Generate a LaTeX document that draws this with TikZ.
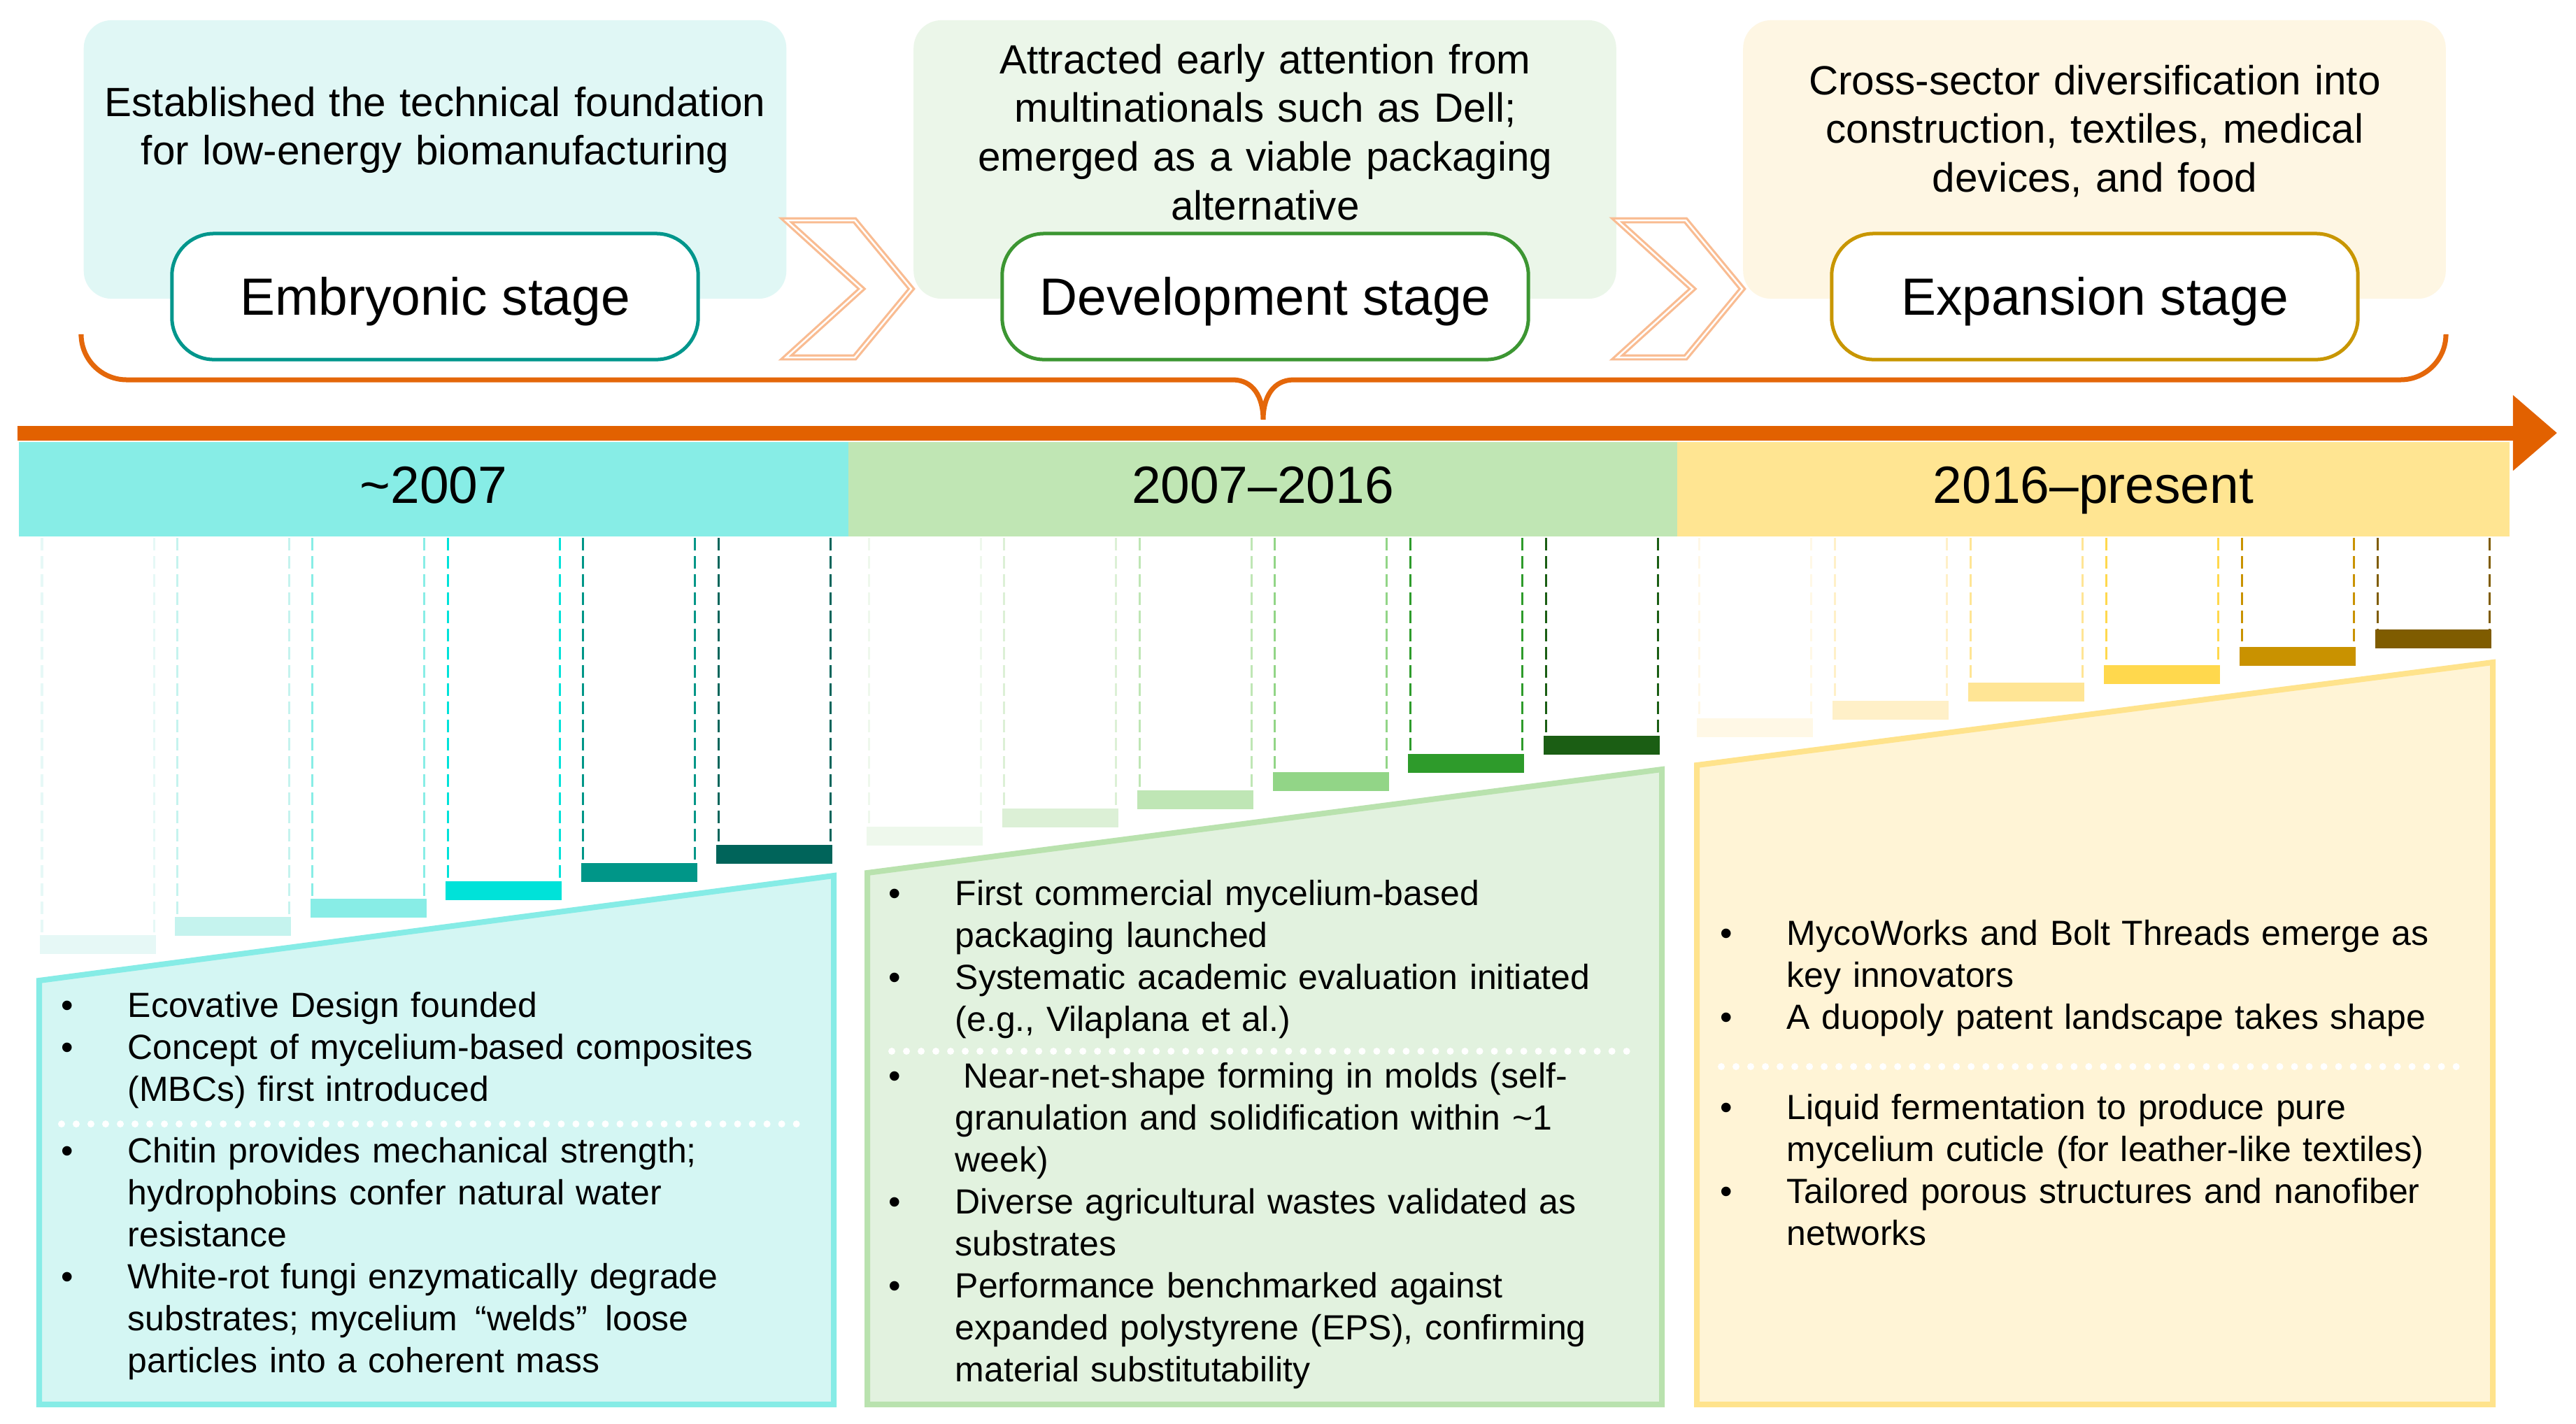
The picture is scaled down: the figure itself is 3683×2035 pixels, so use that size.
\documentclass[tikz,border=0pt]{standalone}
\usepackage{fontspec}
\setmainfont{Liberation Sans}
\usetikzlibrary{arrows.meta}
\definecolor{tlc}{HTML}{E26100}
\definecolor{bracec}{HTML}{E4670A}
\definecolor{chevc}{HTML}{F9BC92}
\definecolor{cybox}{HTML}{E0F7F5}
\definecolor{grbox}{HTML}{EBF6E9}
\definecolor{yebox}{HTML}{FEF6E3}
\definecolor{cystage}{HTML}{00968C}
\definecolor{grstage}{HTML}{3C9632}
\definecolor{yestage}{HTML}{C89600}
\definecolor{cybar}{HTML}{87EDE6}
\definecolor{grbar}{HTML}{C0E6B4}
\definecolor{yebar}{HTML}{FFE592}
\definecolor{cyfill}{HTML}{D4F6F3}
\definecolor{cyline}{HTML}{86ECE6}
\definecolor{grfill}{HTML}{E2F2DF}
\definecolor{grline}{HTML}{B9E2AE}
\definecolor{yefill}{HTML}{FFF4D6}
\definecolor{yeline}{HTML}{FFE38C}
% step colours
\definecolor{cA}{HTML}{E6F8F6}\definecolor{cB}{HTML}{C5F3EE}\definecolor{cC}{HTML}{88EDE6}
\definecolor{cD}{HTML}{00E2D9}\definecolor{cE}{HTML}{009688}\definecolor{cF}{HTML}{00645A}
\definecolor{gA}{HTML}{EEF8EC}\definecolor{gB}{HTML}{DCF0D6}\definecolor{gC}{HTML}{BFE6B5}
\definecolor{gD}{HTML}{92D587}\definecolor{gE}{HTML}{2E9B2B}\definecolor{gF}{HTML}{1B5E14}
\definecolor{yA}{HTML}{FFF8E6}\definecolor{yB}{HTML}{FFF0C8}\definecolor{yC}{HTML}{FFE595}
\definecolor{yD}{HTML}{FFD84D}\definecolor{yE}{HTML}{C99200}\definecolor{yF}{HTML}{7F5C00}
\newcommand\bitem{\makebox[0.95cm][l]{\textbullet}}
\newcommand\bcont{\hspace*{0.95cm}}
\begin{document}
\begin{tikzpicture}[x=0.01cm,y=-0.01cm,
 topbox/.style={rounded corners=0.4cm, inner sep=0, minimum width=10.04cm, minimum height=3.98cm},
 toptext/.style={anchor=base, text width=10.2cm, align=center, inner sep=0, font=\fontsize{16.6}{19.9}\selectfont},
 stagebox/.style={rounded corners=0.6cm, fill=white, line width=0.05cm, minimum width=7.52cm, minimum height=1.80cm, inner sep=0, text height=0.68cm, text depth=0.16cm, font=\fontsize{21.3}{25}\selectfont},
 periodbar/.style={inner sep=0, minimum height=1.35cm, text height=0.56cm, text depth=0.16cm, font=\fontsize{21.3}{25}\selectfont},
 chev/.style={draw=chevc, double=white, double distance=0.025cm, line width=0.032cm, line join=miter},
 brace/.style={draw=bracec, line width=0.07cm},
 colline/.style={line width=0.03cm, dash pattern=on 0.18cm off 0.08cm},
 panel/.style={line width=0.08cm, line join=miter},
 dotsep/.style={draw=white, line width=0.1cm, line cap=round, dash pattern=on 0pt off 0.21cm},
 bullets/.style={anchor=base west, text width=11cm, align=left, inner sep=0, font=\fontsize{14.2}{17.07}\selectfont},
]
\useasboundingbox (0,0) rectangle (3683,2035);
\fill[white] (0,0) rectangle (3683,2035);

% ---------- top boxes ----------
\node[topbox, fill=cybox] (b1) at (622,228) {};
\node[topbox, fill=grbox] (b2) at (1808.5,228) {};
\node[topbox, fill=yebox] (b3) at (2994.5,228) {};

\node[toptext] (t1) at (622,166) {Established the technical foundation\\for low-energy biomanufacturing};
\node[toptext] (t2) at (1809,105) {Attracted early attention from\\multinationals such as Dell;\\emerged as a viable packaging\\alternative};
\node[toptext] (t3) at (2995,135) {Cross-sector diversification into\\construction, textiles, medical\\devices, and food};

\node[stagebox, draw=cystage] (s1) at (622,424) {Embryonic stage};
\node[stagebox, draw=grstage] (s2) at (1809,424) {Development stage};
\node[stagebox, draw=yestage] (s3) at (2995,424) {Expansion stage};

% ---------- chevrons ----------
\draw[chev] (1124,315) -- (1222,315) -- (1303,413) -- (1222,511) -- (1124,511) -- (1232,413) -- cycle;
\draw[chev] (2312,315) -- (2410,315) -- (2491,413) -- (2410,511) -- (2312,511) -- (2420,413) -- cycle;

% ---------- brace ----------
\draw[brace, rounded corners=0.65cm] (116,481) -- (116,543) -- (1700,543) [sharp corners] -- (1762,543)
  .. controls (1792,543) and (1806,568) .. (1806,600)
  .. controls (1806,568) and (1820,543) .. (1850,543)
  [rounded corners=0.65cm] -- (3497,543) -- (3497,481);

% ---------- period bars ----------
\node[periodbar, fill=cybar, minimum width=11.86cm] (p1) at (620,699.5) {\textasciitilde 2007};
\node[periodbar, fill=grbar, minimum width=11.85cm] (p2) at (1805.5,699.5) {2007–2016};
\node[periodbar, fill=yebar, minimum width=11.90cm] (p3) at (2993,699.5) {2016–present};

% ---------- timeline arrow ----------
\coordinate (tls) at (25,619);
\coordinate (tle) at (3656,619);
\draw[tlc, line width=0.21cm, -{Triangle[width=1.04cm,length=0.63cm]}] (tls) -- (tle);

% ---------- step columns ----------
\foreach \i/\c in {0/cA,1/cB,2/cC,3/cD,4/cE,5/cF}{
  \pgfmathsetmacro\xa{57+193.4*\i}
  \pgfmathsetmacro\yb{1364-25.8*\i}
  \fill[\c] (\xa,\yb-27) rectangle (\xa+166,\yb);
  \draw[colline,\c] (\xa+3,769) -- (\xa+3,\yb-27);
  \draw[colline,\c] (\xa+163,769) -- (\xa+163,\yb-27);
}
\foreach \i/\c in {0/gA,1/gB,2/gC,3/gD,4/gE,5/gF}{
  \pgfmathsetmacro\xa{1239+193.6*\i}
  \pgfmathsetmacro\yb{1209-26*\i}
  \fill[\c] (\xa,\yb-27) rectangle (\xa+166,\yb);
  \draw[colline,\c] (\xa+3,769) -- (\xa+3,\yb-27);
  \draw[colline,\c] (\xa+163,769) -- (\xa+163,\yb-27);
}
\foreach \i/\c in {0/yA,1/yB,2/yC,3/yD,4/yE,5/yF}{
  \pgfmathsetmacro\xa{2426+194*\i}
  \pgfmathsetmacro\yb{1054-25.5*\i}
  \fill[\c] (\xa,\yb-27) rectangle (\xa+166,\yb);
  \draw[colline,\c] (\xa+3,769) -- (\xa+3,\yb-27);
  \draw[colline,\c] (\xa+163,769) -- (\xa+163,\yb-27);
}

% ---------- panels ----------
\filldraw[panel, fill=cyfill, draw=cyline] (56,1402) -- (1192,1252) -- (1192,2008) -- (56,2008) -- cycle;
\filldraw[panel, fill=grfill, draw=grline] (1240,1248) -- (2376,1100) -- (2376,2008) -- (1240,2008) -- cycle;
\filldraw[panel, fill=yefill, draw=yeline] (2426,1094) -- (3564,947) -- (3564,2008) -- (2426,2008) -- cycle;

\draw[dotsep] (88,1607) -- (1144,1607);
\draw[dotsep] (1275,1503) -- (2336,1503);
\draw[dotsep] (2461,1525) -- (3521,1525);

% ---------- panel texts ----------
\node[bullets] (c1) at (87,1454) {\bitem Ecovative Design founded\\
\bitem Concept of mycelium-based composites\\
\bcont (MBCs) first introduced};
\node[bullets] (c2) at (87,1662) {\bitem Chitin provides mechanical strength;\\
\bcont hydrophobins confer natural water\\
\bcont resistance\\
\bitem White-rot fungi enzymatically degrade\\
\bcont substrates; mycelium\enspace“welds”\enspace loose\\
\bcont particles into a coherent mass};

\node[bullets] (g1) at (1270,1294) {\bitem First commercial mycelium-based\\
\bcont packaging launched\\
\bitem Systematic academic evaluation initiated\\
\bcont (e.g., Vilaplana et al.)};
\node[bullets] (g2) at (1270,1555) {\bitem\hspace*{0.12cm}Near-net-shape forming in molds (self-\\
\bcont granulation and solidification within \textasciitilde 1\\
\bcont week)\\
\bitem Diverse agricultural wastes validated as\\
\bcont substrates\\
\bitem Performance benchmarked against\\
\bcont expanded polystyrene (EPS), confirming\\
\bcont material substitutability};

\node[bullets] (y1) at (2459,1351) {\bitem MycoWorks and Bolt Threads emerge as\\
\bcont key innovators\\
\bitem A duopoly patent landscape takes shape};
\node[bullets] (y2) at (2459,1600) {\bitem Liquid fermentation to produce pure\\
\bcont mycelium cuticle (for leather-like textiles)\\
\bitem Tailored porous structures and nanofiber\\
\bcont networks};
\end{tikzpicture}
\end{document}
